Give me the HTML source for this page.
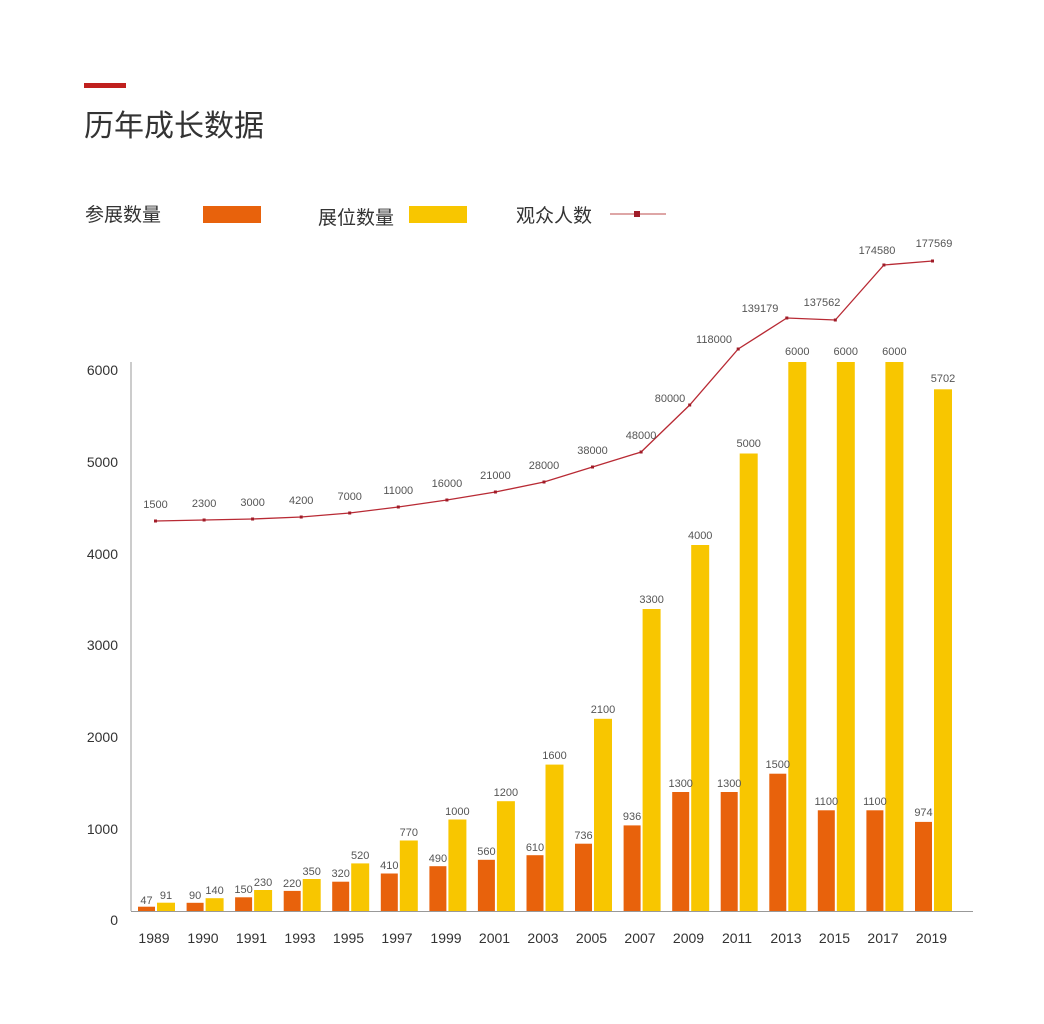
<!DOCTYPE html>
<html><head><meta charset="utf-8"><style>
body{margin:0;background:#fff;}
svg{display:block;font-family:"Liberation Sans","Noto Sans CJK SC",sans-serif;}
.s{font-size:11px;fill:#555;text-anchor:middle;}
.a{font-size:14px;fill:#333;}
.y{font-size:14px;fill:#333;text-anchor:middle;}
.o{fill:#E8620C;}.w{fill:#F8C600;}
</style></head><body>
<svg width="1044" height="1024" viewBox="0 0 1044 1024">
<rect x="84" y="83" width="42" height="5" fill="#C0201E"/>
<text x="84" y="136" font-size="30" fill="#333">历年成长数据</text>
<text x="85" y="221" font-size="19" fill="#333">参展数量</text>
<rect x="203" y="206" width="58" height="17" class="o"/>
<text x="318" y="224" font-size="19" fill="#333">展位数量</text>
<rect x="409" y="206" width="58" height="17" class="w"/>
<text x="516" y="222" font-size="19" fill="#333">观众人数</text>
<line x1="610" y1="214" x2="666" y2="214" stroke="#C97070" stroke-width="1.2"/>
<rect x="634" y="211" width="6" height="6" fill="#A01C28"/>
<line x1="131" y1="362" x2="131" y2="911" stroke="#999" stroke-width="1"/>
<line x1="131" y1="911.5" x2="973" y2="911.5" stroke="#999" stroke-width="1"/>
<g class="a" text-anchor="end">
<text x="118" y="375">6000</text><text x="118" y="467">5000</text><text x="118" y="559">4000</text>
<text x="118" y="650">3000</text><text x="118" y="742">2000</text><text x="118" y="834">1000</text><text x="118" y="925">0</text>
</g>
<g>
<rect class="o" x="138" y="906.7" width="17" height="4.3"/><rect class="w" x="157" y="902.7" width="18" height="8.3"/>
<rect class="o" x="186.6" y="902.8" width="17" height="8.2"/><rect class="w" x="205.6" y="898.2" width="18" height="12.8"/>
<rect class="o" x="235.1" y="897.3" width="17" height="13.7"/><rect class="w" x="254.1" y="890" width="18" height="21"/>
<rect class="o" x="283.7" y="890.9" width="17" height="20.1"/><rect class="w" x="302.7" y="879" width="18" height="32"/>
<rect class="o" x="332.2" y="881.7" width="17" height="29.3"/><rect class="w" x="351.2" y="863.4" width="18" height="47.6"/>
<rect class="o" x="380.8" y="873.5" width="17" height="37.5"/><rect class="w" x="399.8" y="840.5" width="18" height="70.5"/>
<rect class="o" x="429.4" y="866.2" width="17" height="44.8"/><rect class="w" x="448.4" y="819.5" width="18" height="91.5"/>
<rect class="o" x="477.9" y="859.8" width="17" height="51.2"/><rect class="w" x="496.9" y="801.2" width="18" height="109.8"/>
<rect class="o" x="526.5" y="855.2" width="17" height="55.8"/><rect class="w" x="545.5" y="764.6" width="18" height="146.4"/>
<rect class="o" x="575" y="843.7" width="17" height="67.3"/><rect class="w" x="594" y="718.8" width="18" height="192.2"/>
<rect class="o" x="623.6" y="825.4" width="17" height="85.6"/><rect class="w" x="642.6" y="609" width="18" height="302"/>
<rect class="o" x="672.2" y="792" width="17" height="119"/><rect class="w" x="691.2" y="545" width="18" height="366"/>
<rect class="o" x="720.7" y="792" width="17" height="119"/><rect class="w" x="739.7" y="453.5" width="18" height="457.5"/>
<rect class="o" x="769.3" y="773.7" width="17" height="137.3"/><rect class="w" x="788.3" y="362" width="18" height="549"/>
<rect class="o" x="817.8" y="810.3" width="17" height="100.7"/><rect class="w" x="836.8" y="362" width="18" height="549"/>
<rect class="o" x="866.4" y="810.3" width="17" height="100.7"/><rect class="w" x="885.4" y="362" width="18" height="549"/>
<rect class="o" x="915" y="821.9" width="17" height="89.1"/><rect class="w" x="934" y="389.3" width="18" height="521.7"/>
</g>
<g class="s">
<text x="146.5" y="904">47</text><text x="166" y="899">91</text>
<text x="195.1" y="899">90</text><text x="214.6" y="894">140</text>
<text x="243.6" y="893">150</text><text x="263.1" y="886">230</text>
<text x="292.2" y="887">220</text><text x="311.7" y="875">350</text>
<text x="340.7" y="877">320</text><text x="360.2" y="859">520</text>
<text x="389.3" y="869">410</text><text x="408.8" y="836">770</text>
<text x="437.9" y="862">490</text><text x="457.4" y="815">1000</text>
<text x="486.4" y="855">560</text><text x="505.9" y="796">1200</text>
<text x="535" y="851">610</text><text x="554.5" y="759">1600</text>
<text x="583.5" y="839">736</text><text x="603" y="713">2100</text>
<text x="632.1" y="820">936</text><text x="651.6" y="603">3300</text>
<text x="680.7" y="787">1300</text><text x="700.2" y="539">4000</text>
<text x="729.2" y="787">1300</text><text x="748.7" y="447">5000</text>
<text x="777.8" y="768">1500</text><text x="797.3" y="355">6000</text>
<text x="826.3" y="805">1100</text><text x="845.8" y="355">6000</text>
<text x="874.9" y="805">1100</text><text x="894.4" y="355">6000</text>
<text x="923.5" y="816">974</text><text x="943" y="382">5702</text>
</g>
<polyline fill="none" stroke="#B82A34" stroke-width="1.3" points="155.5,521 204.1,520 252.6,519 301.2,517 349.7,513 398.3,507 446.9,500 495.4,492 544,482 592.5,467 641.1,452 689.7,405 738.2,349 786.8,318 835.3,320 883.9,265 932.5,261"/>
<g fill="#A01C28">
<rect x="154" y="519.5" width="3" height="3"/><rect x="202.6" y="518.5" width="3" height="3"/><rect x="251.1" y="517.5" width="3" height="3"/><rect x="299.7" y="515.5" width="3" height="3"/><rect x="348.2" y="511.5" width="3" height="3"/><rect x="396.8" y="505.5" width="3" height="3"/><rect x="445.4" y="498.5" width="3" height="3"/><rect x="493.9" y="490.5" width="3" height="3"/><rect x="542.5" y="480.5" width="3" height="3"/><rect x="591" y="465.5" width="3" height="3"/><rect x="639.6" y="450.5" width="3" height="3"/><rect x="688.2" y="403.5" width="3" height="3"/><rect x="736.7" y="347.5" width="3" height="3"/><rect x="785.3" y="316.5" width="3" height="3"/><rect x="833.8" y="318.5" width="3" height="3"/><rect x="882.4" y="263.5" width="3" height="3"/><rect x="931" y="259.5" width="3" height="3"/>
</g>
<g class="s">
<text x="155.5" y="508">1500</text><text x="204.1" y="507">2300</text><text x="252.6" y="506">3000</text><text x="301.2" y="504">4200</text><text x="349.7" y="500">7000</text><text x="398.3" y="494">11000</text><text x="446.9" y="487">16000</text><text x="495.4" y="479">21000</text><text x="544" y="469">28000</text><text x="592.5" y="454">38000</text><text x="641.1" y="439">48000</text><text x="670" y="402">80000</text><text x="714" y="343">118000</text><text x="760" y="312">139179</text><text x="822" y="306">137562</text><text x="877" y="254">174580</text><text x="934" y="247">177569</text>
</g>
<g class="y">
<text x="154" y="943">1989</text><text x="203" y="943">1990</text><text x="251.5" y="943">1991</text><text x="300" y="943">1993</text><text x="348.5" y="943">1995</text><text x="397" y="943">1997</text><text x="446" y="943">1999</text><text x="494.5" y="943">2001</text><text x="543" y="943">2003</text><text x="591.5" y="943">2005</text><text x="640" y="943">2007</text><text x="688.5" y="943">2009</text><text x="737" y="943">2011</text><text x="786" y="943">2013</text><text x="834.5" y="943">2015</text><text x="883" y="943">2017</text><text x="931.5" y="943">2019</text>
</g>
</svg>
</body></html>
